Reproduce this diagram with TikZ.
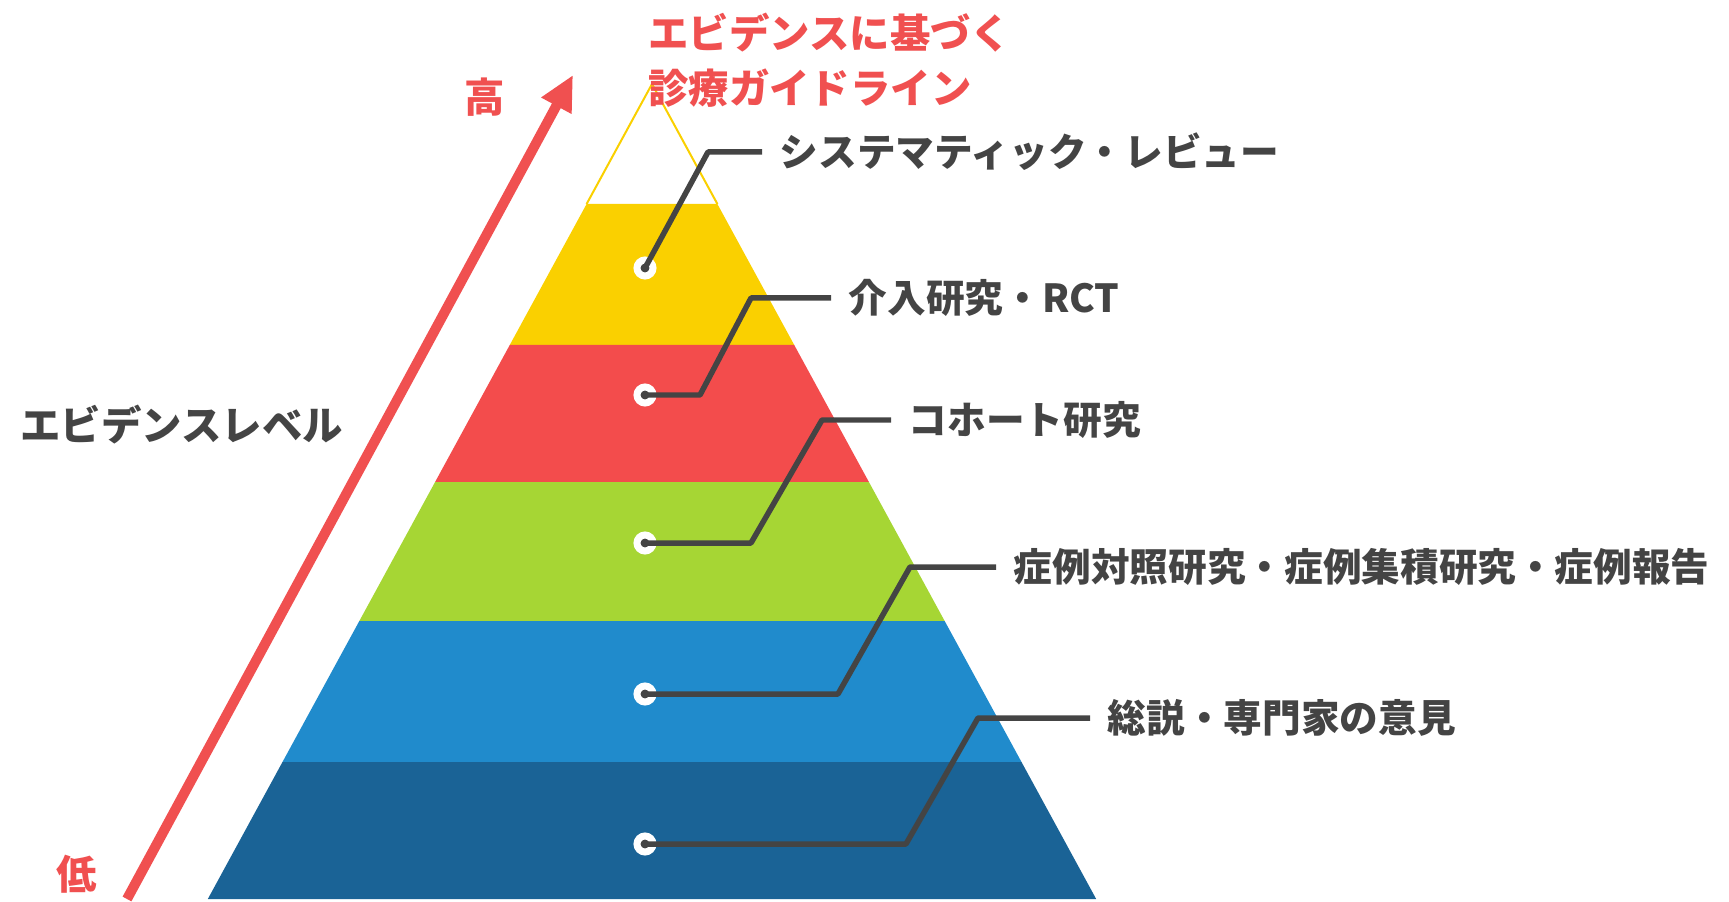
\documentclass[tikz,border=0pt]{standalone}
\usepackage{fontspec}
\setmainfont{Noto Sans CJK JP}
\usepackage{tikz}
\usetikzlibrary{
    positioning,
    arrows.meta
}
\definecolor{pyYellow}{RGB}{250,208,0}
\definecolor{pyRed}{RGB}{243,76,76}
\definecolor{pyGreen}{RGB}{166,214,52}
\definecolor{pyBlue}{RGB}{32,139,204}
\definecolor{pyNavy}{RGB}{26,99,150}
\definecolor{lblGray}{RGB}{68,68,68}
\definecolor{accRed}{RGB}{240,80,80}
\tikzset{
    >=Stealth,
    punto/.style={
        circle,
        fill=lblGray,
        draw=white,
        line width=0.14cm,
        minimum size=0.32cm,
        inner sep=0pt
    },
    etiqueta/.style={
        anchor=west,
        text=lblGray,
        inner xsep=0.35cm,
        font=\bfseries\fontsize{22}{26}\selectfont
    },
    conector/.style={
        draw=lblGray,
        line width=0.11cm,
        line join=round
    },
    rojo/.style={
        text=accRed,
        font=\bfseries\fontsize{23}{31}\selectfont
    }
}

\begin{document}
\begin{tikzpicture}[
    x=0.02cm,
    y=-0.02cm
]
    \useasboundingbox (0,0) rectangle (1729,902);

    % Piramide
    \coordinate (apex) at (652,84);
    \foreach \ya/\yb/\col in {204/345/pyYellow, 345/482/pyRed, 482/621/pyGreen,
                              621/762/pyBlue, 762/899/pyNavy}
        \fill[\col] ({652-(\ya-84)*0.545},\ya) -- ({652+(\ya-84)*0.545},\ya)
            -- ({652+(\yb-84)*0.545},\yb) -- ({652-(\yb-84)*0.545},\yb) -- cycle;
    \draw[pyYellow, line width=0.04cm, line join=round]
        (586.6,204) -- (apex) -- (717.4,204);

    % Flecha de nivel
    \coordinate (bajo) at (127,899);
    \coordinate (alto) at (573,75);
    \draw[accRed, line width=0.2cm, -{Triangle[length=0.7cm, width=0.64cm]}]
        (bajo) -- (alto);
    \node[rojo] (alto-txt) at (485,97) {高};
    \node[rojo] (bajo-txt) at (77,874) {低};
    \node[etiqueta, font=\bfseries\fontsize{23}{28}\selectfont, inner xsep=0pt]
        (nivel) at (20,425) {エビデンスレベル};
    \node[rojo, anchor=west, align=left, inner xsep=0pt]
        (guia) at (648,60) {エビデンスに基づく\\診療ガイドライン};

    % Puntos
    \node[punto] (d1) at (645,268) {};
    \node[punto] (d2) at (645,395) {};
    \node[punto] (d3) at (645,543) {};
    \node[punto] (d4) at (645,694) {};
    \node[punto] (d5) at (645,844) {};

    % Etiquetas
    \node[etiqueta] (l1) at (762,152)  {システマティック・レビュー};
    \node[etiqueta] (l2) at (831,298)  {介入研究・RCT};
    \node[etiqueta] (l3) at (891,420)  {コホート研究};
    \node[etiqueta] (l4) at (996,567)  {症例対照研究・症例集積研究・症例報告};
    \node[etiqueta] (l5) at (1090,718) {総説・専門家の意見};

    % Conectores
    \coordinate (j1) at (708,152);
    \coordinate (k2) at (700,395);  \coordinate (j2) at (751,298);
    \coordinate (k3) at (751,543);  \coordinate (j3) at (822,420);
    \coordinate (k4) at (838,694);  \coordinate (j4) at (910,567);
    \coordinate (k5) at (906,844);  \coordinate (j5) at (978,718);
    \draw[conector] (d1.center) -- (j1) -- (l1.west);
    \draw[conector] (d2.center) -- (k2) -- (j2) -- (l2.west);
    \draw[conector] (d3.center) -- (k3) -- (j3) -- (l3.west);
    \draw[conector] (d4.center) -- (k4) -- (j4) -- (l4.west);
    \draw[conector] (d5.center) -- (k5) -- (j5) -- (l5.west);

\end{tikzpicture}
\end{document}
